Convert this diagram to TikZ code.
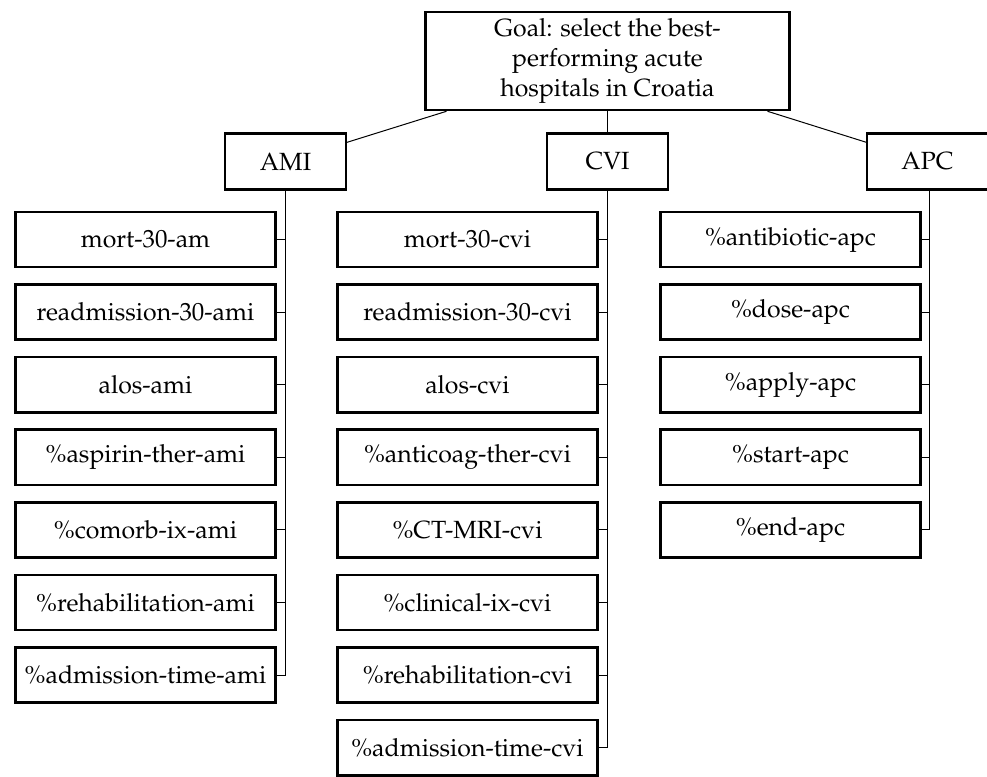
\documentclass[tikz,border=0pt]{standalone}
\usepackage[T1]{fontenc}
\usepackage{mathpazo}
\tikzset{
  box/.style={draw, line width=1pt, rectangle, inner sep=2pt, align=center, font=\fontsize{10}{12}\selectfont},
  header/.style={box, minimum width=48.5pt, minimum height=22.5pt},
  leaf/.style={box, minimum width=104.4pt, minimum height=22.2pt},
  goalbox/.style={box, minimum width=146.3pt, minimum height=39.4pt},
  link/.style={line width=0.4pt}
}
\begin{document}
\begin{tikzpicture}[x=0.4018pt,y=-0.4018pt]
\useasboundingbox (0,0) rectangle (987,776);
\node[goalbox] (goal) at (607.5,61) {Goal: select the best-\\performing acute\\hospitals in Croatia};
\node[header] (ami) at (285.5,161.5) {AMI};
\node[header] (cvi) at (607.5,161.5) {CVI};
\node[header] (apc) at (927.5,161.5) {APC};
\draw[link] (goal) -- (ami);
\draw[link] (goal) -- (cvi);
\draw[link] (goal) -- (apc);
% AMI
\node[leaf] (a1) at (145.5,239.5) {mort-30-am};
\node[leaf] (a2) at (145.5,312.1) {readmission-30-ami};
\node[leaf] (a3) at (145.5,384.7) {alos-ami};
\node[leaf] (a4) at (145.5,457.3) {\%aspirin-ther-ami};
\node[leaf] (a5) at (145.5,529.9) {\%comorb-ix-ami};
\node[leaf] (a6) at (145.5,602.5) {\%rehabilitation-ami};
\node[leaf] (a7) at (145.5,675.1) {\%admission-time-ami};
\foreach \n in {a1,a2,a3,a4,a5,a6,a7} \draw[link] (ami.south) |- (\n.east);
% CVI
\node[leaf] (c1) at (467.5,239.5) {mort-30-cvi};
\node[leaf] (c2) at (467.5,312.1) {readmission-30-cvi};
\node[leaf] (c3) at (467.5,384.7) {alos-cvi};
\node[leaf] (c4) at (467.5,457.3) {\%anticoag-ther-cvi};
\node[leaf] (c5) at (467.5,529.9) {\%CT-MRI-cvi};
\node[leaf] (c6) at (467.5,602.5) {\%clinical-ix-cvi};
\node[leaf] (c7) at (467.5,675.1) {\%rehabilitation-cvi};
\node[leaf] (c8) at (467.5,747.7) {\%admission-time-cvi};
\foreach \n in {c1,c2,c3,c4,c5,c6,c7,c8} \draw[link] (cvi.south) |- (\n.east);
% APC
\coordinate (apcdrop) at (929,190);
\node[leaf] (p1) at (790.5,239.5) {\%antibiotic-apc};
\node[leaf] (p2) at (790.5,312.1) {\%dose-apc};
\node[leaf] (p3) at (790.5,384.7) {\%apply-apc};
\node[leaf] (p4) at (790.5,457.3) {\%start-apc};
\node[leaf] (p5) at (790.5,529.9) {\%end-apc};
\foreach \n in {p1,p2,p3,p4,p5} \draw[link] (apcdrop) |- (\n.east);
\end{tikzpicture}
\end{document}
